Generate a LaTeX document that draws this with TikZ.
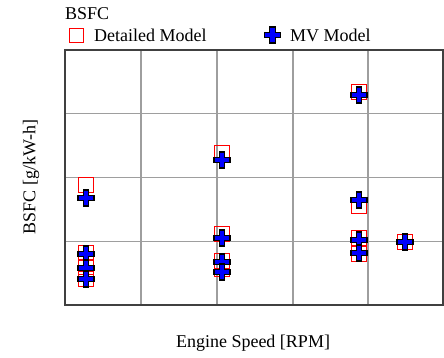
\documentclass[tikz,border=0pt]{standalone}
\usepackage{fontspec}
\setmainfont{Liberation Serif}
\tikzset{
    gridline/.style={line width=1.2pt, draw=black!38},
    frameline/.style={line width=1.3pt, draw=black!75},
    detbox/.style={draw=red, line width=1.4pt, minimum size=15pt, inner sep=0pt},
    mvplus/.pic={
        \filldraw[fill=blue, draw=black, line width=1.1pt]
            (-2.8,-8) -- (2.8,-8) -- (2.8,-2.8) -- (8,-2.8) -- (8,2.8) -- (2.8,2.8)
            -- (2.8,8) -- (-2.8,8) -- (-2.8,2.8) -- (-8,2.8) -- (-8,-2.8) -- (-2.8,-2.8) -- cycle;
    },
    lbl/.style={font=\fontsize{18}{21}\selectfont, inner sep=0pt}
}
\begin{document}
\begin{tikzpicture}[x=1pt,y=-1pt]
    \useasboundingbox[fill=white] (0,0) rectangle (444,357);

    % grid
    \foreach \gx in {141,217,293,368}
        \draw[gridline] (\gx,50) -- (\gx,305);
    \foreach \gy in {113.5,177.5,241.5}
        \draw[gridline] (65,\gy) -- (443,\gy);
    \draw[frameline] (65,50) rectangle (443,305);

    % detailed model
    \foreach \px/\py [count=\i] in {86/185, 86/253, 86/267, 86/279,
        222/153, 222/234, 222/261, 222/269,
        359/92, 359/206, 359/238, 359/254, 405/242}
        \node[detbox] (det\i) at (\px,\py) {};

    % MV model
    \foreach \px/\py [count=\i] in {86/198, 86/254, 86/268, 86/279,
        222/160, 222/238, 222/262, 222/272,
        359/95, 359/200, 359/240, 359/253, 405/242}
        \pic (mv\i) at (\px,\py) {mvplus};

    % legend
    \node[lbl, anchor=west] (title) at (65,14) {BSFC};
    \node[detbox, minimum size=14pt] (legdet) at (76.5,35.5) {};
    \node[lbl, anchor=west] (legdettxt) at (94,35) {Detailed Model};
    \pic (legmv) at (272.5,35) {mvplus};
    \node[lbl, anchor=west] (legmvtxt) at (290,35) {MV Model};

    % axis labels
    \node[lbl, rotate=90] (ylab) at (31,177) {BSFC [g/kW-h]};
    \node[lbl] (xlab) at (253,343) {Engine Speed [RPM]};
\end{tikzpicture}
\end{document}
